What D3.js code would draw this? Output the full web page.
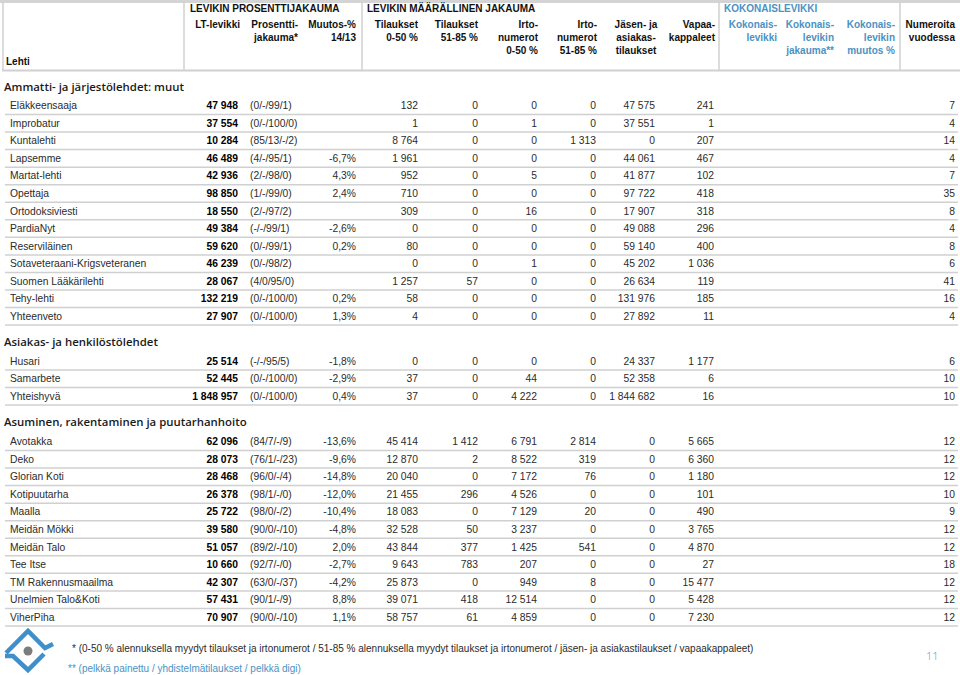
<!DOCTYPE html>
<html>
<head>
<meta charset="utf-8">
<script src="https://cdn.jsdelivr.net/npm/d3@7"></script>
<style>
  body { margin: 0; background: #fff; }
  svg { display: block; font-family: "Liberation Sans", Arial, sans-serif; }
</style>
</head>
<body>
<svg class="levikki" width="960" height="675"></svg>
<script>
// Table data
var sections = ["Ammatti- ja järjestölehdet: muut", "Asiakas- ja henkilöstölehdet", "Asuminen, rakentaminen ja puutarhanhoito"];
var sectionSizes = [13, 3, 11];

var lehti = ["Eläkkeensaaja", "Improbatur", "Kuntalehti", "Lapsemme", "Martat-lehti", "Opettaja", "Ortodoksiviesti",
    "PardiaNyt", "Reserviläinen", "Sotaveteraani-Krigsveteranen", "Suomen Lääkärilehti", "Tehy-lehti", "Yhteenveto",
    "Husari", "Samarbete", "Yhteishyvä",
    "Avotakka", "Deko", "Glorian Koti", "Kotipuutarha", "Maalla", "Meidän Mökki", "Meidän Talo", "Tee Itse",
    "TM Rakennusmaailma", "Unelmien Talo&Koti", "ViherPiha"];
var ltLevikki = [47948, 37554, 10284, 46489, 42936, 98850, 18550, 49384, 59620, 46239, 28067, 132219, 27907,
    25514, 52445, 1848957,
    62096, 28073, 28468, 26378, 25722, 39580, 51057, 10660, 42307, 57431, 70907];
var jakauma = ["(0/-/99/1)", "(0/-/100/0)", "(85/13/-/2)", "(4/-/95/1)", "(2/-/98/0)", "(1/-/99/0)", "(2/-/97/2)",
    "(-/-/99/1)", "(0/-/99/1)", "(0/-/98/2)", "(4/0/95/0)", "(0/-/100/0)", "(0/-/100/0)",
    "(-/-/95/5)", "(0/-/100/0)", "(0/-/100/0)",
    "(84/7/-/9)", "(76/1/-/23)", "(96/0/-/4)", "(98/1/-/0)", "(98/0/-/2)", "(90/0/-/10)", "(89/2/-/10)",
    "(92/7/-/0)", "(63/0/-/37)", "(90/1/-/9)", "(90/0/-/10)"];
var muutos = [null, null, null, -6.7, 4.3, 2.4, null, -2.6, 0.2, null, null, 0.2, 1.3,
    -1.8, -2.9, 0.4,
    -13.6, -9.6, -14.8, -12.0, -10.4, -4.8, 2.0, -2.7, -4.2, 8.8, 1.1];
var tilaukset050 = [132, 1, 8764, 1961, 952, 710, 309, 0, 80, 0, 1257, 58, 4,
    0, 37, 37,
    45414, 12870, 20040, 21455, 18083, 32528, 43844, 9643, 25873, 39071, 58757];
var tilaukset5185 = [0, 0, 0, 0, 0, 0, 0, 0, 0, 0, 57, 0, 0,
    0, 0, 0,
    1412, 2, 0, 296, 0, 50, 377, 783, 0, 418, 61];
var irto050 = [0, 1, 0, 0, 5, 0, 16, 0, 0, 1, 0, 0, 0,
    0, 44, 4222,
    6791, 8522, 7172, 4526, 7129, 3237, 1425, 207, 949, 12514, 4859];
var irto5185 = [0, 0, 1313, 0, 0, 0, 0, 0, 0, 0, 0, 0, 0,
    0, 0, 0,
    2814, 319, 76, 0, 20, 0, 541, 0, 8, 0, 0];
var jasen = [47575, 37551, 0, 44061, 41877, 97722, 17907, 49088, 59140, 45202, 26634, 131976, 27892,
    24337, 52358, 1844682,
    0, 0, 0, 0, 0, 0, 0, 0, 0, 0, 0];
var vapaa = [241, 1, 207, 467, 102, 418, 318, 296, 400, 1036, 119, 185, 11,
    1177, 6, 16,
    5665, 6360, 1180, 101, 490, 3765, 4870, 27, 15477, 5428, 7230];
var numeroita = [7, 4, 14, 4, 7, 35, 8, 4, 8, 6, 41, 16, 4,
    6, 10, 10,
    12, 12, 12, 10, 9, 12, 12, 18, 12, 12, 12];

var groupHeaders = ["LEVIKIN PROSENTTIJAKAUMA", "LEVIKIN MÄÄRÄLLINEN JAKAUMA", "KOKONAISLEVIKKI"];
var columnHeaders = [["LT-levikki"], ["Prosentti-", "jakauma*"], ["Muutos-%", "14/13"],
    ["Tilaukset", "0-50 %"], ["Tilaukset", "51-85 %"], ["Irto-", "numerot", "0-50 %"], ["Irto-", "numerot", "51-85 %"],
    ["Jäsen- ja", "asiakas-", "tilaukset"], ["Vapaa-", "kappaleet"],
    ["Kokonais-", "levikki"], ["Kokonais-", "levikin", "jakauma**"], ["Kokonais-", "levikin", "muutos %"],
    ["Numeroita", "vuodessa"]];
var footnote1 = "* (0-50 % alennuksella myydyt tilaukset ja irtonumerot / 51-85 % alennuksella myydyt tilaukset ja irtonumerot / jäsen- ja asiakastilaukset / vapaakappaleet)";
var footnote2 = "** (pelkkä painettu / yhdistelmätilaukset / pelkkä digi)";
var pageNumber = "11";

var svg = d3.select("svg.levikki"),
    width = +svg.attr("width"),
    height = +svg.attr("height");

var blue = "#4b92c3",
    lineColor = "#d0d0d0",
    textColor = "#2b2b2b";

var fi = d3.formatLocale({decimal: ",", thousands: " ", grouping: [3], currency: ["", " €"], minus: "-"});
var fmtInt = fi.format(",d"),
    fmtPct = function(v) { return v == null ? "" : fi.format(".1f")(v) + "%"; };

// column anchors (right edge of numbers)
var colKeys = ["lt", "muutos", "t050", "t5185", "i050", "i5185", "jasen", "vapaa", "koko", "kokoJak", "kokoMuu", "num"];
var colX = d3.scaleOrdinal()
    .domain(colKeys)
    .range([238, 356, 418, 478, 537, 596, 655, 714, 777, 834, 895, 955]);
var headerX = [240, 298, 356, 418, 478, 538, 597, 636, 715, 777, 834, 895, 955];
var headerAnchor = function(i) { return i === 7 ? "middle" : "end"; };

// ---- header box
svg.append("rect").attr("width", width).attr("height", height).attr("fill", "#fff");
svg.append("rect").attr("x", 0).attr("y", 0).attr("width", width).attr("height", 3).attr("fill", "#d4d4d4");
svg.append("line").attr("x1", 3).attr("x2", 3).attr("y1", 2).attr("y2", 71)
    .attr("stroke", lineColor).attr("stroke-width", 1.5);
svg.append("line").attr("x1", 2).attr("x2", width).attr("y1", 70.5).attr("y2", 70.5)
    .attr("stroke", lineColor).attr("stroke-width", 2);
[184, 362, 719, 900].forEach(function(x) {
    svg.append("line").attr("x1", x).attr("x2", x).attr("y1", 2).attr("y2", 70)
        .attr("stroke", lineColor).attr("stroke-width", 1.5);
});

var head = svg.append("g").attr("font-weight", "bold").attr("font-size", "10px");
head.selectAll("text.group")
    .data(groupHeaders)
    .enter().append("text")
    .attr("class", "group")
    .attr("x", function(d, i) { return [190, 367, 724][i]; })
    .attr("y", 12)
    .attr("fill", function(d, i) { return i === 2 ? blue : "#111"; })
    .text(function(d) { return d; });

var colHead = head.selectAll("text.col")
    .data(columnHeaders)
    .enter().append("text")
    .attr("class", "col")
    .attr("text-anchor", function(d, i) { return headerAnchor(i); })
    .attr("fill", function(d, i) { return (i >= 9 && i <= 11) ? blue : "#111"; });
colHead.selectAll("tspan")
    .data(function(d, i) { return d.map(function(t) { return {t: t, i: i}; }); })
    .enter().append("tspan")
    .attr("x", function(d) { return headerX[d.i]; })
    .attr("y", function(d, j) { return 28 + j * 13; })
    .text(function(d) { return d.t; });
head.append("text").attr("x", 6).attr("y", 64.5).attr("fill", "#111").text("Lehti");

// ---- sections
var sectionTop = [87, 342, 422];   // heading centre
var firstRow = [105.5, 361, 441.5],
    pitch = 17.55;

var start = 0;
sections.forEach(function(title, s) {
    var n = sectionSizes[s];
    var idx = d3.range(start, start + n);
    start += n;

    var y = d3.scaleLinear().domain([0, 1]).range([firstRow[s], firstRow[s] + pitch]);

    svg.append("text")
        .attr("x", 4)
        .attr("y", sectionTop[s] + 4.3)
        .attr("font-family", "'Open Sans', 'Noto Sans', sans-serif")
        .attr("font-weight", 600)
        .attr("font-size", "11.4px")
        .attr("fill", "#1a1a1a")
        .text(title);

    var rows = svg.append("g")
        .attr("font-size", "10.3px")
        .attr("fill", textColor)
        .selectAll("g.row")
        .data(idx)
        .enter().append("g")
        .attr("class", "row")
        .attr("transform", function(d, i) { return "translate(0," + y(i) + ")"; });

    rows.append("line")
        .attr("x1", 5).attr("x2", 958)
        .attr("y1", 9).attr("y2", 9)
        .attr("stroke", lineColor)
        .attr("stroke-width", 1.5);

    rows.append("text").attr("x", 10).attr("y", 3.7)
        .text(function(d) { return lehti[d]; });
    rows.append("text").attr("x", colX("lt")).attr("y", 3.7)
        .attr("text-anchor", "end").attr("font-weight", "bold").attr("fill", "#000")
        .text(function(d) { return fmtInt(ltLevikki[d]); });
    rows.append("text").attr("x", 250).attr("y", 3.7)
        .text(function(d) { return jakauma[d]; });
    rows.append("text").attr("x", colX("muutos")).attr("y", 3.7).attr("text-anchor", "end")
        .text(function(d) { return fmtPct(muutos[d]); });

    var numCols = [["t050", tilaukset050], ["t5185", tilaukset5185], ["i050", irto050], ["i5185", irto5185],
        ["jasen", jasen], ["vapaa", vapaa], ["num", numeroita]];
    numCols.forEach(function(c) {
        rows.append("text").attr("x", colX(c[0])).attr("y", 3.7).attr("text-anchor", "end")
            .text(function(d) { return fmtInt(c[1][d]); });
    });
});

// ---- footer
var logo = svg.append("g").attr("fill", "none").attr("stroke", "#3f8fca")
    .attr("stroke-width", 4.5).attr("stroke-linejoin", "miter");
logo.append("path").attr("d", "M6,653 L28,631 L45,648 L53,644");
logo.append("path").attr("d", "M5,656 L13,656 L28,670 L44,654");
svg.append("circle").attr("cx", 28).attr("cy", 651).attr("r", 4.5).attr("fill", "#7c7c7c");

svg.append("text").attr("x", 72).attr("y", 652).attr("font-size", "10px").attr("fill", textColor)
    .text(footnote1);
svg.append("text").attr("x", 68).attr("y", 672).attr("font-size", "10px").attr("fill", blue)
    .text(footnote2);
svg.append("text").attr("x", 926).attr("y", 660)
    .attr("font-family", "'Open Sans', sans-serif").attr("font-weight", 300)
    .attr("font-size", "11px").attr("fill", blue)
    .text(pageNumber);
</script>
</body>
</html>
